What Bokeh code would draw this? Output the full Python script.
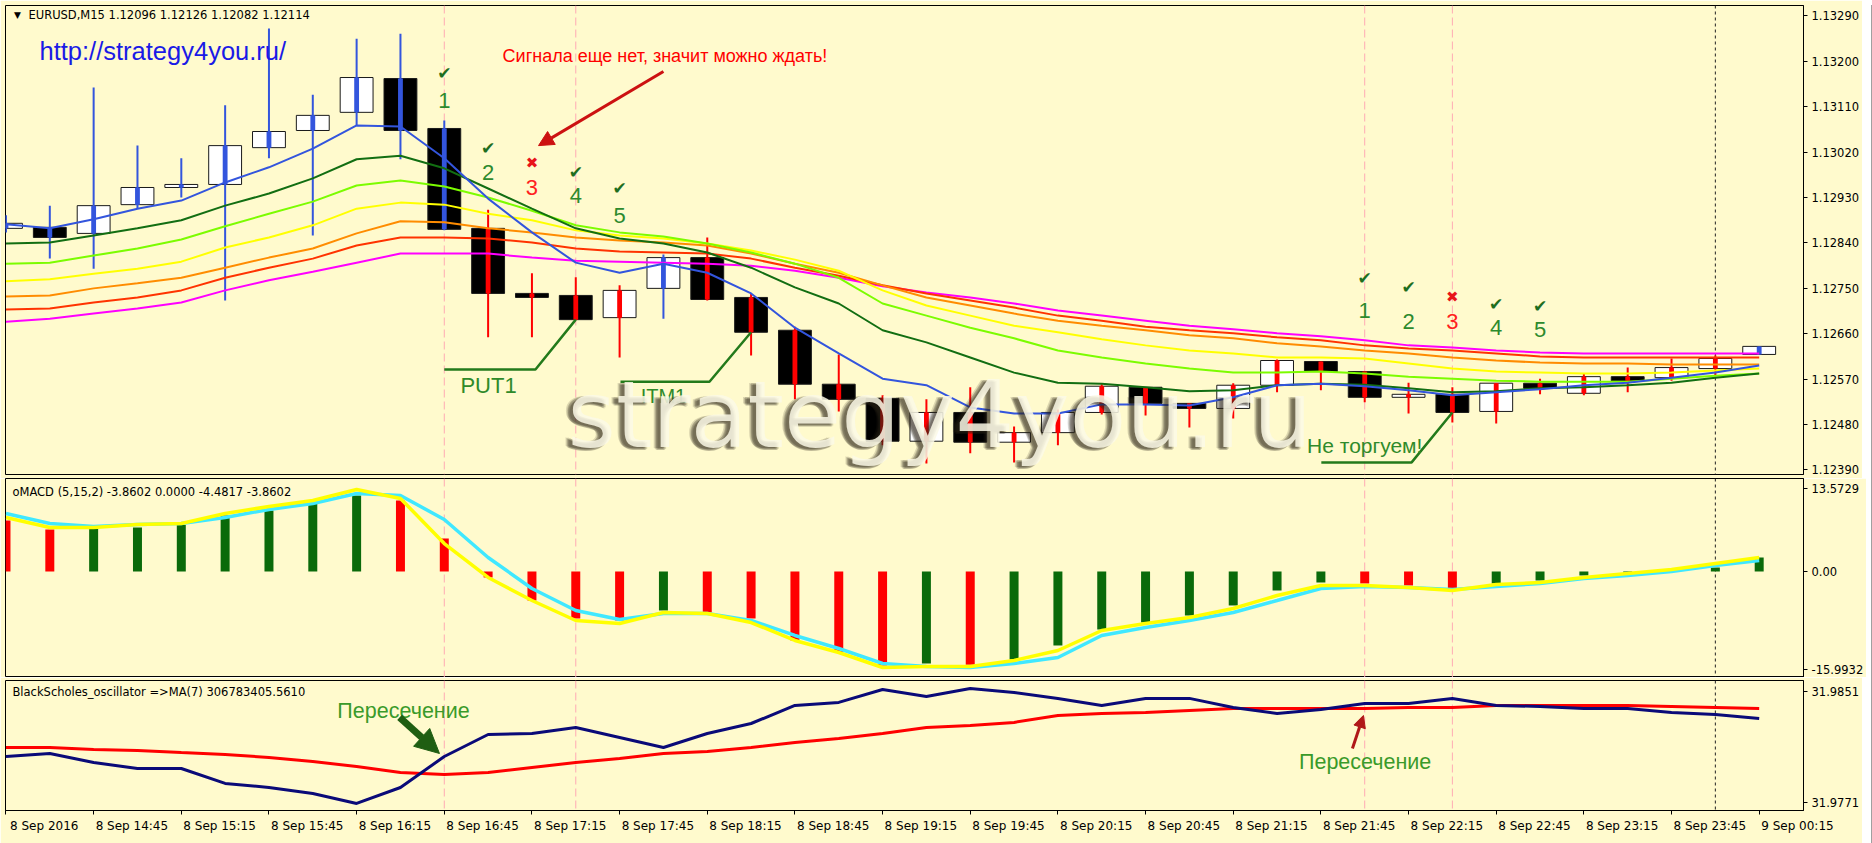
from bokeh.plotting import figure
from bokeh.layouts import column, row
from bokeh.models import (ColumnDataSource, Range1d, FixedTicker, Span, Arrow, Div, LinearAxis,
                          NormalHead, PrintfTickFormatter, CustomJSTickFormatter)
from bokeh.core.properties import value
from bokeh.embed import file_html
from bokeh.resources import INLINE

# ---------------- data ----------------
bars = list(range(41))
tick_pos = list(range(0, 41, 2))
tick_labels = ["8 Sep 2016", "8 Sep 14:45", "8 Sep 15:15", "8 Sep 15:45", "8 Sep 16:15",
               "8 Sep 16:45", "8 Sep 17:15", "8 Sep 17:45", "8 Sep 18:15", "8 Sep 18:45",
               "8 Sep 19:15", "8 Sep 19:45", "8 Sep 20:15", "8 Sep 20:45", "8 Sep 21:15",
               "8 Sep 21:45", "8 Sep 22:15", "8 Sep 22:45", "8 Sep 23:15", "8 Sep 23:45",
               "9 Sep 00:15"]

opens = [1.12869, 1.12871, 1.12859, 1.12916, 1.12950, 1.12956, 1.13029, 1.13063, 1.13099, 1.13166,
         1.13067, 1.12869, 1.12740, 1.12736, 1.12692, 1.12750, 1.12811, 1.12732, 1.12667, 1.12560,
         1.12532, 1.12447, 1.12504, 1.12445, 1.12464, 1.12504, 1.12554, 1.12522, 1.12512, 1.12558,
         1.12605, 1.12585, 1.12534, 1.12540, 1.12506, 1.12562, 1.12542, 1.12575, 1.12573, 1.12591,
         1.12619]
highs = [1.12895, 1.12914, 1.13148, 1.13033, 1.13008, 1.13113, 1.13265, 1.13134, 1.13245, 1.13255,
         1.13083, 1.12906, 1.12780, 1.12772, 1.12756, 1.12817, 1.12851, 1.12740, 1.12674, 1.12619,
         1.12538, 1.12530, 1.12554, 1.12476, 1.12510, 1.12560, 1.12554, 1.12522, 1.12562, 1.12609,
         1.12605, 1.12585, 1.12563, 1.12554, 1.12562, 1.12571, 1.12581, 1.12593, 1.12611, 1.12617,
         1.12635]
lows = [1.12861, 1.12809, 1.12789, 1.12908, 1.12930, 1.12726, 1.13008, 1.12855, 1.13073, 1.13006,
        1.12865, 1.12653, 1.12653, 1.12688, 1.12613, 1.12690, 1.12726, 1.12617, 1.12530, 1.12506,
        1.12439, 1.12403, 1.12423, 1.12405, 1.12439, 1.12500, 1.12498, 1.12474, 1.12492, 1.12544,
        1.12548, 1.12524, 1.12502, 1.12484, 1.12482, 1.12540, 1.12538, 1.12544, 1.12567, 1.12577,
        1.12619]
closes = [1.12879, 1.12851, 1.12914, 1.12950, 1.12956, 1.13033, 1.13061, 1.13093, 1.13168, 1.13063,
          1.12867, 1.12740, 1.12732, 1.12688, 1.12746, 1.12811, 1.12728, 1.12663, 1.12560, 1.12530,
          1.12447, 1.12504, 1.12445, 1.12464, 1.12504, 1.12556, 1.12522, 1.12512, 1.12558, 1.12607,
          1.12585, 1.12534, 1.12540, 1.12504, 1.12562, 1.12552, 1.12575, 1.12567, 1.12593, 1.12611,
          1.12635]
trend = ["up"] * 11 + ["dn"] * 4 + ["up"] + ["dn"] * 24 + ["up"]

ma_blue = [1.12877, 1.12869, 1.12887, 1.12908, 1.12924, 1.12960, 1.12990, 1.13027, 1.13073, 1.13071,
           1.13008, 1.12928, 1.12861, 1.12801, 1.12781, 1.12799, 1.12781, 1.12740, 1.12672, 1.12621,
           1.12571, 1.12558, 1.12514, 1.12502, 1.12502, 1.12520, 1.12520, 1.12518, 1.12534, 1.12558,
           1.12561, 1.12556, 1.12548, 1.12538, 1.12544, 1.12550, 1.12558, 1.12563, 1.12573, 1.12583,
           1.12597]
ma_green = [1.12839, 1.12841, 1.12855, 1.12869, 1.12885, 1.12914, 1.12938, 1.12968, 1.13006, 1.13013,
            1.12988, 1.12948, 1.12908, 1.12869, 1.12849, 1.12839, 1.12821, 1.12791, 1.12752, 1.12720,
            1.12667, 1.12643, 1.12613, 1.12583, 1.12563, 1.12561, 1.12554, 1.12546, 1.12548, 1.12558,
            1.12561, 1.12559, 1.12552, 1.12544, 1.12546, 1.12552, 1.12554, 1.12558, 1.12563, 1.12573,
            1.12581]
ma_lime = [1.12799, 1.12801, 1.12815, 1.12829, 1.12847, 1.12873, 1.12898, 1.12922, 1.12954, 1.12964,
           1.12952, 1.12930, 1.12904, 1.12875, 1.12861, 1.12853, 1.12839, 1.12821, 1.12799, 1.12771,
           1.12720, 1.12696, 1.12672, 1.12651, 1.12627, 1.12613, 1.12601, 1.12591, 1.12583, 1.12583,
           1.12585, 1.12581, 1.12575, 1.12571, 1.12567, 1.12565, 1.12565, 1.12565, 1.12571, 1.12577,
           1.12581]
ma_yellow = [1.12764, 1.12768, 1.12779, 1.12789, 1.12803, 1.12831, 1.12851, 1.12875, 1.12908, 1.12920,
             1.12916, 1.12898, 1.12885, 1.12865, 1.12855, 1.12849, 1.12839, 1.12825, 1.12807, 1.12785,
             1.12746, 1.12716, 1.12696, 1.12676, 1.12663, 1.12649, 1.12637, 1.12627, 1.12621, 1.12613,
             1.12613, 1.12611, 1.12601, 1.12591, 1.12585, 1.12583, 1.12581, 1.12581, 1.12583, 1.12587,
             1.12591]
ma_orange = [1.12734, 1.12736, 1.12750, 1.12760, 1.12771, 1.12791, 1.12811, 1.12829, 1.12859, 1.12883,
             1.12881, 1.12869, 1.12861, 1.12851, 1.12845, 1.12841, 1.12835, 1.12819, 1.12799, 1.12781,
             1.12756, 1.12732, 1.12716, 1.12700, 1.12686, 1.12676, 1.12667, 1.12657, 1.12651, 1.12641,
             1.12635, 1.12627, 1.12621, 1.12613, 1.12607, 1.12603, 1.12601, 1.12601, 1.12599, 1.12599,
             1.12599]
ma_red = [1.12708, 1.12710, 1.12722, 1.12732, 1.12746, 1.12771, 1.12791, 1.12809, 1.12835, 1.12851,
          1.12851, 1.12849, 1.12841, 1.12829, 1.12823, 1.12821, 1.12819, 1.12809, 1.12791, 1.12775,
          1.12756, 1.12740, 1.12726, 1.12712, 1.12696, 1.12686, 1.12674, 1.12667, 1.12661, 1.12653,
          1.12647, 1.12637, 1.12631, 1.12627, 1.12621, 1.12615, 1.12613, 1.12613, 1.12613, 1.12613,
          1.12613]
ma_magenta = [1.12684, 1.12690, 1.12700, 1.12710, 1.12722, 1.12746, 1.12766, 1.12783, 1.12801, 1.12819,
              1.12819, 1.12819, 1.12811, 1.12805, 1.12803, 1.12801, 1.12799, 1.12795, 1.12785, 1.12771,
              1.12754, 1.12742, 1.12732, 1.12720, 1.12706, 1.12696, 1.12686, 1.12676, 1.12669, 1.12661,
              1.12655, 1.12647, 1.12637, 1.12633, 1.12627, 1.12623, 1.12621, 1.12621, 1.12621, 1.12621,
              1.12621]
price_ticks = [1.12390, 1.12480, 1.12570, 1.12660, 1.12750, 1.12840, 1.12930, 1.13020, 1.13110,
               1.13200, 1.13290]

macd_hist = [8.35, 6.87, 7.10, 7.20, 7.60, 9.17, 9.98, 11.13, 12.44, 11.62, 5.40, -0.98, -4.75,
             -7.69, -8.02, -6.38, -6.71, -7.69, -11.29, -13.26, -15.38, -15.06, -15.25, -14.40,
             -12.11, -9.49, -8.35, -7.20, -5.56, -3.11, -1.80, -1.96, -2.29, -2.78, -1.96, -1.47,
             -0.65, -0.16, 0.16, 0.65, 2.29]
macd_dir = ["dn", "dn", "up", "up", "up", "up", "up", "up", "up", "dn", "dn", "dn", "dn", "dn",
            "dn", "up", "dn", "dn", "dn", "dn", "dn", "up", "dn", "up", "up", "up", "up", "up",
            "up", "up", "up", "dn", "dn", "dn", "up", "up", "up", "up", "up", "up", "up"]
macd_cyan = [9.49, 7.86, 7.36, 7.69, 7.86, 8.84, 10.15, 11.13, 12.77, 12.44, 8.51, 2.29, -2.78,
             -6.38, -7.86, -6.87, -6.87, -8.02, -10.47, -12.60, -15.06, -15.55, -15.71, -15.06,
             -14.08, -10.47, -9.17, -8.02, -6.71, -4.75, -2.78, -2.45, -2.62, -2.95, -2.45, -1.96,
             -1.15, -0.65, 0.0, 0.98, 1.80]
macd_yellow = [8.84, 7.20, 7.20, 7.69, 7.86, 9.49, 10.64, 11.62, 13.42, 11.95, 4.58, -0.98, -4.75,
               -8.02, -8.51, -6.71, -6.87, -8.35, -11.29, -13.26, -15.71, -15.55, -15.55, -14.57,
               -12.93, -9.66, -8.51, -7.53, -6.06, -3.93, -2.29, -2.29, -2.62, -3.11, -2.13, -1.80,
               -0.98, -0.33, 0.33, 1.31, 2.29]
macd_ticks = [-15.9932, 0.0, 13.5729]
macd_tick_labels = ["-15.9932", "0.00", "13.5729"]

bs_osc = [31.98041, 31.98063, 31.97998, 31.97955, 31.97955, 31.97847, 31.97818, 31.97775, 31.97703,
          31.97818, 31.98041, 31.98200, 31.98207, 31.98250, 31.98178, 31.98106, 31.98207, 31.98279,
          31.98409, 31.98431, 31.98524, 31.98474, 31.98532, 31.98503, 31.98460, 31.98409, 31.98460,
          31.98460, 31.98395, 31.98351, 31.98380, 31.98424, 31.98424, 31.98460, 31.98409, 31.98402,
          31.98387, 31.98387, 31.98359, 31.98344, 31.98315]
bs_ma = [31.98106, 31.98106, 31.98092, 31.98085, 31.98070, 31.98056, 31.98034, 31.98005, 31.97969,
         31.97926, 31.97912, 31.97926, 31.97962, 31.97998, 31.98027, 31.98063, 31.98077, 31.98106,
         31.98142, 31.98171, 31.98207, 31.98250, 31.98265, 31.98287, 31.98337, 31.98351, 31.98359,
         31.98373, 31.98387, 31.98387, 31.98387, 31.98387, 31.98395, 31.98395, 31.98409, 31.98409,
         31.98409, 31.98409, 31.98402, 31.98395, 31.98387]
bs_ticks = [31.9771, 31.9851]
bs_tick_labels = ["31.9771", "31.9851"]

signal_bars = [10, 13, 31, 33]
separator_bar = 39

# ---------------- styling ----------------
BG = "#FFFACD"
PINK = "#FFAAB4"
COL_UP = "#3355DD"
COL_DN = "#FF0000"
XR = Range1d(-0.011, 41.011)
AX_FONT = "11.5px"
JS_LOOKUP = "const i = pos.indexOf(tick); return i >= 0 ? labels[i] : '';"


def make_fig(frame_h, yr, top_b, bot_b, xaxis):
    f = figure(frame_width=1798, frame_height=frame_h, x_range=XR, y_range=yr,
               output_backend="svg", toolbar_location=None,
               x_axis_location="below" if xaxis else None, y_axis_location="right",
               min_border_left=5, min_border_right=59, min_border_top=top_b,
               min_border_bottom=bot_b, background_fill_color=BG, border_fill_color=BG,
               outline_line_color="#000000", outline_line_width=1)
    f.grid.visible = False
    for ax in f.axis:
        ax.axis_line_color = "#000000"
        ax.major_tick_line_color = "#000000"
        ax.major_tick_in = 0
        ax.major_tick_out = 4
        ax.minor_tick_line_color = None
        ax.major_label_text_font = "DejaVu Sans"
        ax.major_label_text_font_size = AX_FONT
        ax.major_label_text_color = "#000000"
        ax.major_label_standoff = 4
    for b in signal_bars:
        f.add_layout(Span(location=b, dimension="height", line_color=PINK,
                          line_dash="8 4", line_width=1, level="underlay"))
    f.add_layout(Span(location=separator_bar, dimension="height", line_color="#222222",
                      line_dash="3 3", line_width=1, level="underlay"))
    return f


def txt(f, x, y, s, size, color, font="Liberation Sans", align="center", baseline="middle",
        alpha=1.0, xo=0, yo=0):
    f.text(x=[x], y=[y], text=[s], text_font=value(font), text_font_size=size,
           text_color=color, text_align=align, text_baseline=baseline, text_alpha=alpha,
           x_offset=xo, y_offset=yo)


# ---------------- main price panel ----------------
p1 = make_fig(469, Range1d(1.123810, 1.133108), 5, 4, False)
p1.yaxis.ticker = FixedTicker(ticks=price_ticks)
p1.yaxis.formatter = PrintfTickFormatter(format="%.5f")

src = ColumnDataSource(dict(
    x=bars, o=opens, h=highs, l=lows, c=closes,
    top=[max(a, b) for a, b in zip(opens, closes)],
    bot=[min(a, b) for a, b in zip(opens, closes)],
    body=["#FFFFFF" if c >= o else "#000000" for o, c in zip(opens, closes)],
    wick=[COL_UP if t == "up" else COL_DN for t in trend],
))
p1.vbar(x="x", width=0.75, top="top", bottom="bot", fill_color="body",
        line_color="#1A1A1A", line_width=1, source=src)
p1.segment(x0="x", y0="l", x1="x", y1="h", line_color="wick", line_width=2, source=src)
p1.vbar(x="x", width=0.11, top="top", bottom="bot", fill_color="wick", line_color=None,
        source=src)

for ma, col in [(ma_magenta, "#FF00FF"), (ma_red, "#FF3300"), (ma_orange, "#FF8C00"),
                (ma_yellow, "#FFFF00"), (ma_lime, "#7CFC00"), (ma_green, "#126E12"),
                (ma_blue, "#3355DD")]:
    p1.line(bars, ma, line_color=col, line_width=2)

# headers / links
txt(p1, 0.262, 1.13291, "\u25BC", "9px", "#000000", font="DejaVu Sans")
txt(p1, 0.513, 1.13291, "EURUSD,M15  1.12096 1.12126 1.12082 1.12114", "11.5px", "#000000",
    font="DejaVu Sans", align="left")
txt(p1, 0.764, 1.13220, "http://strategy4you.ru/", "25.5px", "#1A1AE6", align="left")
txt(p1, 11.33, 1.13210, "Сигнала еще нет, значит можно ждать!", "18px", "#FF0000",
    align="left")
p1.add_layout(Arrow(end=NormalHead(size=15, fill_color="#CC1111", line_color="#CC1111"),
                    x_start=15.0, y_start=1.13180, x_end=12.15, y_end=1.13033,
                    line_color="#CC1111", line_width=3))

# signal marks
CHK = "#1E6E1E"
NUM = "#2D8A2D"
marks1 = [(10, 1.13176, 1.13122, "1", True), (11, 1.13029, 1.12980, "2", True),
          (12, 1.12998, 1.12950, "3", False), (13, 1.12980, 1.12934, "4", True),
          (14, 1.12948, 1.12895, "5", True)]
marks2 = [(31, 1.12771, 1.12706, "1", True), (32, 1.12752, 1.12684, "2", True),
          (33, 1.12732, 1.12684, "3", False), (34, 1.12720, 1.12672, "4", True),
          (35, 1.12716, 1.12669, "5", True)]
for bx, ym, yn, n, ok in marks1 + marks2:
    if ok:
        txt(p1, bx, ym, "\u2714", "17px", CHK, font="DejaVu Sans")
        txt(p1, bx, yn, n, "22px", NUM)
    else:
        txt(p1, bx, ym, "\u2716", "15px", "#E8141A", font="DejaVu Sans")
        txt(p1, bx, yn, n, "22px", "#FF2020")

# callout lines
LG = "#237A1B"
p1.line([10.0, 12.08, 13.0], [1.12589, 1.12589, 1.12688], line_color=LG, line_width=2.5)
p1.line([14.02, 16.05, 17.0], [1.12565, 1.12565, 1.12663], line_color=LG, line_width=2.5)
p1.line([30.01, 32.07, 33.0], [1.12405, 1.12405, 1.12504], line_color=LG, line_width=2.5)
txt(p1, 11.01, 1.12557, "PUT1", "22px", "#2F8A2A")
txt(p1, 15.0, 1.12536, "ITM1", "20px", "#2F8A2A")
txt(p1, 31.0, 1.12439, "Не торгуем!", "21px", "#2F8A2A")

# watermark with soft shadow
WM = "strategy4you.ru"
WX, WY = 12.81, 1.12498
for dx, dy in [(-5, 3), (-6, 2), (-4, 3), (-7, 1), (-3, 2), (-5, 1)]:
    txt(p1, WX, WY, WM, "93px", "#2A2418", font="DejaVu Sans", align="left",
        alpha=0.16, xo=dx, yo=dy)
txt(p1, WX, WY, WM, "93px", "#FCF9E6", font="DejaVu Sans", align="left", alpha=0.85)

# ---------------- MACD panel ----------------
p2 = make_fig(199, Range1d(-17.35, 15.22), 0, 0, False)
p2.yaxis.ticker = FixedTicker(ticks=macd_ticks)
p2.yaxis.formatter = CustomJSTickFormatter(
    args=dict(pos=macd_ticks, labels=macd_tick_labels), code=JS_LOOKUP)
msrc = ColumnDataSource(dict(x=bars, v=macd_hist,
                             col=["#0A6A0A" if d == "up" else "#FF0000" for d in macd_dir]))
p2.vbar(x="x", width=0.205, top="v", bottom=0, fill_color="col", line_color=None, source=msrc)
p2.line(bars, macd_cyan, line_color="#40E8FF", line_width=3.5)
p2.line(bars, macd_yellow, line_color="#FFFF00", line_width=3.5)
txt(p2, 0.148, 13.09, "oMACD (5,15,2) -3.8602 0.0000 -4.4817 -3.8602", "11.5px", "#000000",
    font="DejaVu Sans", align="left")

# ---------------- BlackScholes panel ----------------
p3 = make_fig(130, Range1d(31.97652, 31.98589), 3, 33, True)
p3.yaxis.ticker = FixedTicker(ticks=bs_ticks)
p3.yaxis.formatter = CustomJSTickFormatter(
    args=dict(pos=bs_ticks, labels=bs_tick_labels), code=JS_LOOKUP)
# tick marks at the bars, labels start right of each tick (MT4 style)
p3.xaxis.ticker = FixedTicker(ticks=tick_pos)
p3.xaxis.formatter = CustomJSTickFormatter(code="return '';")
p3.xaxis.major_label_text_font_size = "1px"
p3.xaxis.major_label_standoff = 0
lab_pos = [t + 0.873 for t in tick_pos]
lab_axis = LinearAxis(ticker=FixedTicker(ticks=lab_pos),
                      formatter=CustomJSTickFormatter(args=dict(pos=lab_pos, labels=tick_labels),
                                                      code=JS_LOOKUP),
                      axis_line_color=None, major_tick_line_color=None,
                      minor_tick_line_color=None, major_label_standoff=-2,
                      major_label_text_font="DejaVu Sans", major_label_text_font_size="12px",
                      major_label_text_color="#000000")
p3.add_layout(lab_axis, "below")

p3.line(bars, bs_ma, line_color="#FF0000", line_width=3)
p3.line(bars, bs_osc, line_color="#0A0A78", line_width=3)
txt(p3, 0.148, 31.98503, "BlackScholes_oscillator  =>MA(7) 306783405.5610", "11.5px",
    "#000000", font="DejaVu Sans", align="left")
txt(p3, 9.07, 31.98366, "Пересечение", "21.5px", "#3A9A2A")
txt(p3, 31.01, 31.97998, "Пересечение", "21.5px", "#3A9A2A")
p3.add_layout(Arrow(end=NormalHead(size=24, fill_color="#1F5E12", line_color="#1F5E12"),
                    x_start=8.98, y_start=31.98323, x_end=9.89, y_end=31.98063,
                    line_color="#1F5E12", line_width=7))
p3.add_layout(Arrow(end=NormalHead(size=12, fill_color="#B01818", line_color="#B01818"),
                    x_start=30.72, y_start=31.98099, x_end=30.97, y_end=31.98337,
                    line_color="#B01818", line_width=3))

strip = Div(text="", width=10, height=843, styles={"background-color": "#A0A0A0"})
layout = row(column(p1, p2, p3, spacing=0), strip, spacing=0)
open("out.html", "w").write(file_html(layout, INLINE))
